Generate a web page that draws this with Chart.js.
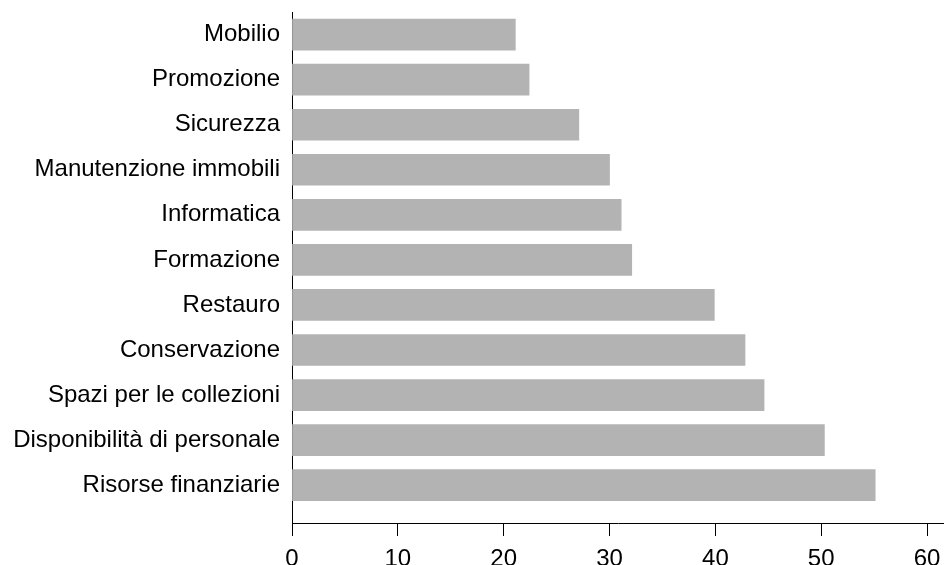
<!DOCTYPE html>
<html>
<head>
<meta charset="utf-8">
<script src="https://cdn.jsdelivr.net/npm/chart.js@4"></script>
<style>
  html, body { margin: 0; padding: 0; background: #fff; }
  #wrap { width: 944px; height: 565px; }
</style>
</head>
<body>
<div id="wrap"><canvas id="myChart" width="944" height="565"></canvas></div>
<script>
// Categorie (dall'alto verso il basso)
const categorie = [
    'Mobilio',
    'Promozione',
    'Sicurezza',
    'Manutenzione immobili',
    'Informatica',
    'Formazione',
    'Restauro',
    'Conservazione',
    'Spazi per le collezioni',
    'Disponibilità di personale',
    'Risorse finanziarie'
];

// Valori
const valori = [21.1, 22.4, 27.1, 30.0, 31.1, 32.1, 39.9, 42.8, 44.6, 50.3, 55.1];

// Etichette dell'asse x
const tickX = [0, 10, 20, 30, 40, 50, 60];

const font = { family: '"Liberation Sans", Arial, Helvetica, sans-serif', size: 24 };

// Margini dell'asse delle categorie (mezza riga sopra, spazio vuoto sotto)
const yMin = -0.502;
const yMax = 10.84;

const ctx = document.getElementById('myChart').getContext('2d');
const myChart = new Chart(ctx, {
    type: 'bar',
    data: {
        datasets: [{
            data: valori.map((v, i) => ({ x: v, y: i })),
            backgroundColor: '#b3b3b3',
            borderWidth: 0,
            barThickness: 31
        }]
    },
    options: {
        indexAxis: 'y',
        responsive: false,
        animation: false,
        layout: { padding: { top: 12, left: 0, right: 0, bottom: 0 } },
        plugins: {
            legend: { display: false },
            tooltip: { enabled: false }
        },
        scales: {
            y: {
                type: 'linear',
                reverse: true,
                offset: false,
                min: yMin,
                max: yMax,
                bounds: 'data',
                grid: { display: false, drawTicks: false, offset: false },
                border: { display: true, color: '#000', width: 1 },
                afterBuildTicks: axis => {
                    axis.ticks = categorie.map((c, i) => ({ value: i }));
                    axis.min = yMin;
                    axis.max = yMax;
                },
                afterFit: axis => {
                    axis.width = 292;
                    axis.paddingTop = 0;
                    axis.paddingBottom = 0;
                },
                ticks: {
                    padding: 12,
                    color: '#000',
                    font: font,
                    callback: value => categorie[value]
                }
            },
            x: {
                type: 'linear',
                min: 0,
                max: 61.6,
                grid: { drawOnChartArea: false, drawTicks: true, tickLength: 13, color: '#000', lineWidth: 1 },
                border: { display: true, color: '#000', width: 1 },
                afterBuildTicks: axis => {
                    axis.ticks = tickX.map(v => ({ value: v }));
                    axis.min = 0;
                    axis.max = 61.6;
                },
                afterFit: axis => {
                    axis.height = 42;
                    axis.paddingLeft = 0;
                    axis.paddingRight = 0;
                },
                ticks: {
                    padding: 9,
                    color: '#000',
                    font: font,
                    maxRotation: 0
                }
            }
        }
    }
});
</script>
</body>
</html>
